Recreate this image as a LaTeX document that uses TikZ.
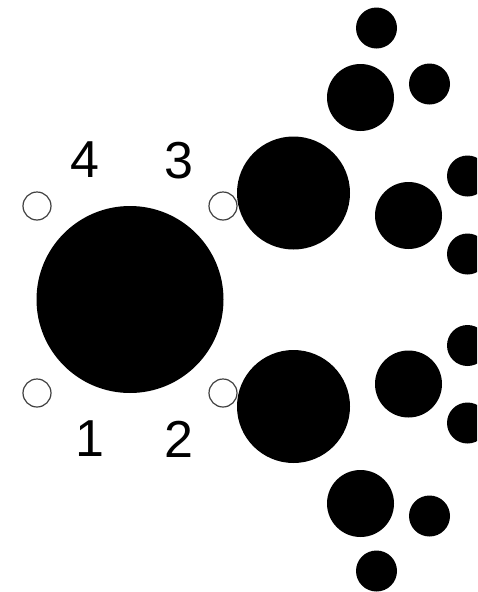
\documentclass[tikz,border=0pt]{standalone}
\usepackage{fontspec}
\setmainfont{Liberation Sans}
\tikzset{
  dot/.style={circle, fill=black, draw=none, inner sep=0pt, minimum size=#1},
  pin/.style={circle, draw=black!75, line width=1.2pt, fill=white, inner sep=0pt, minimum size=28pt},
  lbl/.style={inner sep=0pt, font=\fontsize{52}{60}\selectfont}
}
\begin{document}
\begin{tikzpicture}[x=1pt,y=-1pt]
\useasboundingbox (0,0) rectangle (477,592);
\clip (0,0) rectangle (477,592);
% big central
\node[dot=187pt] (big) at (130,299.5) {};
% pins
\node[pin] (p4) at (37,206) {};
\node[pin] (p3) at (223,206) {};
\node[pin] (p1) at (37,393) {};
\node[pin] (p2) at (223,393) {};
% labels
\node[lbl] (l4) at (85,160) {4};
\node[lbl] (l3) at (179,161) {3};
\node[lbl] (l1) at (90,439) {1};
\node[lbl] (l2) at (179,439) {2};
% medium circles
\node[dot=113pt] (mu) at (293.5,193) {};
\node[dot=113pt] (ml) at (293.5,406.5) {};
% mid circles
\node[dot=67pt] (a1) at (360.5,97.5) {};
\node[dot=67pt] (a2) at (408.5,215.5) {};
\node[dot=67pt] (a3) at (408.5,384) {};
\node[dot=67pt] (a4) at (360.5,503.5) {};
% small circles
\node[dot=41pt] (s1) at (376.5,28) {};
\node[dot=41pt] (s2) at (429.5,84) {};
\node[dot=41pt] (s3) at (467.5,176) {};
\node[dot=41pt] (s4) at (467.5,254) {};
\node[dot=41pt] (s5) at (467.5,345.5) {};
\node[dot=41pt] (s6) at (467.5,423) {};
\node[dot=41pt] (s7) at (429.5,516) {};
\node[dot=41pt] (s8) at (376.5,571) {};
\end{tikzpicture}
\end{document}
